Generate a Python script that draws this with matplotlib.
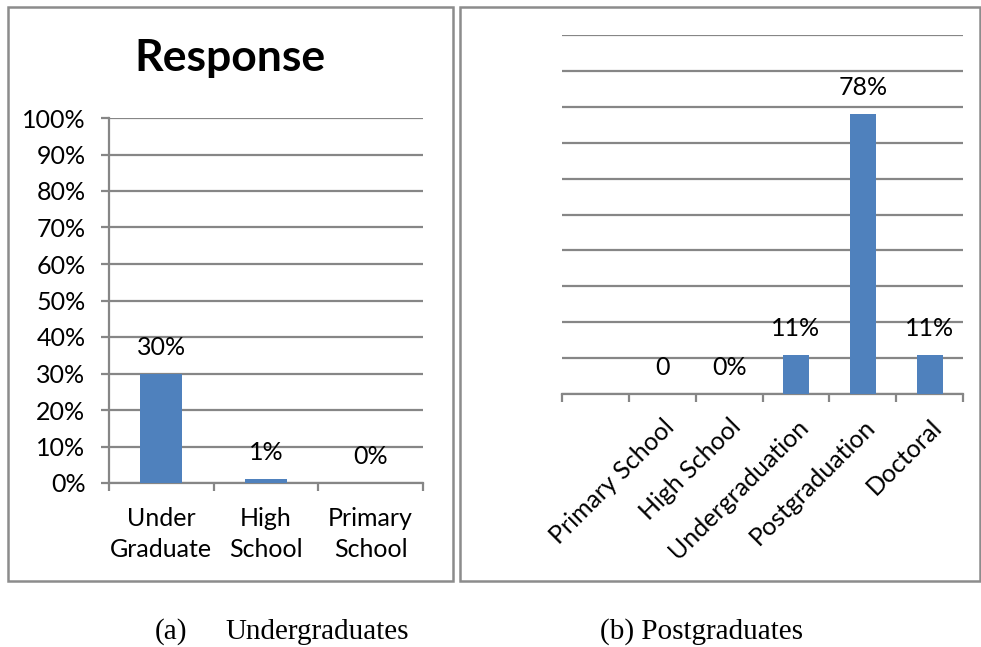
import matplotlib

matplotlib.use("Agg")
import matplotlib.pyplot as plt
import numpy as np
from matplotlib.patches import Rectangle

# panel (a): undergraduates
UG_CATS = ["Under\nGraduate", "High\nSchool", "Primary\nSchool"]
UG_VALS = [0.30, 0.01, 0.0]
UG_LABELS = ["30%", "1%", "0%"]

# panel (b): postgraduates (first slot is an empty category)
PG_CATS = ["", "Primary School", "High School", "Undergraduation", "Postgraduation", "Doctoral"]
PG_VALS = [np.nan, 0.0, 0.0, 0.11, 0.78, 0.11]
PG_LABELS = ["", "0", "0%", "11%", "78%", "11%"]

W, H = 981, 647
BLUE = "#4f81bd"
GRID = "#868686"
SANS = "Lato"
SERIF = "Liberation Serif"
FS = 18


def px(x0, y0, x1, y1):
    """pixel box (top-left origin) -> figure fraction rect"""
    return [x0 / W, 1 - y1 / H, (x1 - x0) / W, (y1 - y0) / H]


def style_axes(ax, n):
    ax.set_xlim(0, n)
    ax.set_ylim(0, 1)
    ax.yaxis.grid(True, color=GRID, lw=1.6)
    ax.set_axisbelow(True)
    for s in ("top", "right"):
        ax.spines[s].set_visible(False)
    ax.spines["bottom"].set_color(GRID)
    ax.spines["bottom"].set_linewidth(1.6)
    ax.set_xticks(np.arange(n) + 0.5)
    ax.set_xticks(np.arange(n + 1), minor=True)
    ax.tick_params(axis="x", which="major", length=0)
    ax.tick_params(axis="x", which="minor", length=6, width=1.6, color=GRID)


fig = plt.figure(figsize=(W / 100, H / 100), dpi=100)

# panel borders
for box in [(8, 7, 453, 581), (460, 7, 980, 581)]:
    r = px(*box)
    fig.patches.append(Rectangle((r[0], r[1]), r[2], r[3], transform=fig.transFigure,
                                 fill=False, ec="#8c8c8c", lw=1.8))

# (a)
ax1 = fig.add_axes(px(109, 118, 423, 483))
style_axes(ax1, len(UG_CATS))
x1 = np.arange(len(UG_CATS)) + 0.5
ax1.bar(x1, UG_VALS, width=0.4, color=BLUE, zorder=3)
ax1.set_yticks(np.linspace(0, 1, 11))
ax1.set_yticklabels([f"{int(v * 100)}%" for v in np.linspace(0, 1, 11)])
ax1.spines["left"].set_color(GRID)
ax1.spines["left"].set_linewidth(1.6)
ax1.tick_params(axis="y", length=6, width=1.6, color=GRID, pad=11, labelsize=FS)
ax1.set_xticklabels(UG_CATS, fontsize=FS, linespacing=1.45)
ax1.tick_params(axis="x", which="major", pad=17)
for x, v, lab in zip(x1, UG_VALS, UG_LABELS):
    ax1.annotate(lab, (x, v), xytext=(0, 19), textcoords="offset points",
                 ha="center", va="center", fontsize=FS)
fig.text(230 / W, 1 - 58 / H, "Response", ha="center", va="center",
         fontsize=32, fontweight="bold", family=SANS)

# (b)
ax2 = fig.add_axes(px(562, 35, 963, 394))
style_axes(ax2, len(PG_CATS))
x2 = np.arange(len(PG_CATS)) + 0.5
ax2.bar(x2, PG_VALS, width=0.39, color=BLUE, zorder=3)
ax2.set_yticks(np.linspace(0, 1, 11))
ax2.tick_params(axis="y", length=0, labelleft=False)
ax2.spines["left"].set_visible(False)
ax2.set_xticklabels(PG_CATS, fontsize=FS, rotation=45, ha="right",
                    rotation_mode="anchor")
ax2.tick_params(axis="x", which="major", pad=15)
for x, v, lab in zip(x2, PG_VALS, PG_LABELS):
    if lab:
        ax2.annotate(lab, (x, v), xytext=(0, 19), textcoords="offset points",
                     ha="center", va="center", fontsize=FS)

for ax in (ax1, ax2):
    for t in ax.get_xticklabels() + ax.get_yticklabels():
        t.set_family(SANS)
    for t in ax.texts:
        t.set_family(SANS)

# captions
fig.text(155 / W, 1 - 632 / H, "(a)", ha="left", va="center", fontsize=21, family=SERIF)
fig.text(225 / W, 1 - 632 / H, "Undergraduates", ha="left", va="center", fontsize=21, family=SERIF)
fig.text(702 / W, 1 - 632 / H, "(b) Postgraduates", ha="center", va="center", fontsize=21, family=SERIF)

fig.savefig("out.png", dpi=100)
